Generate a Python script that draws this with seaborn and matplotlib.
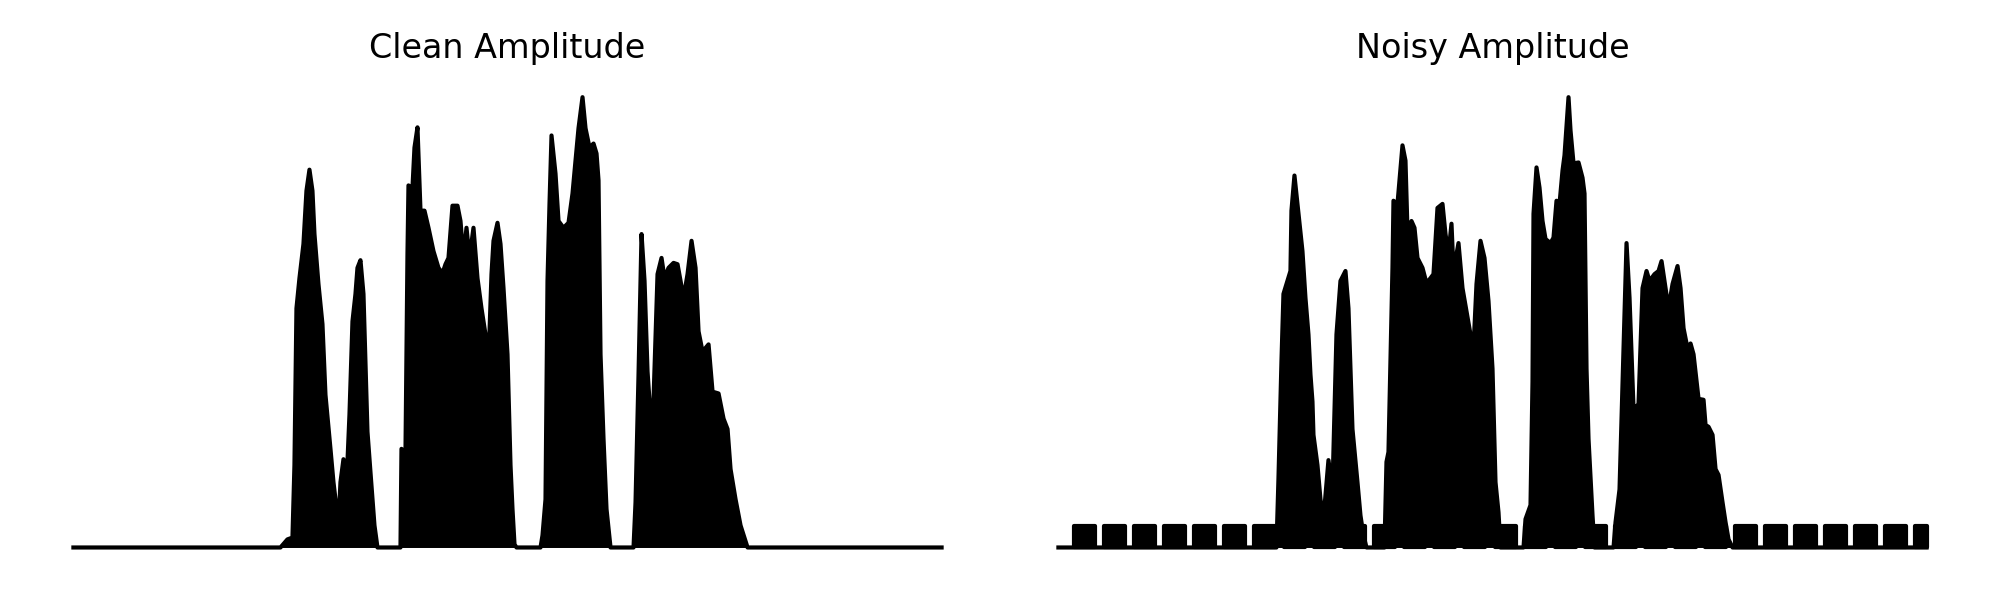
import numpy as np
import pandas as pd
import matplotlib
matplotlib.use('Agg')
import matplotlib.pyplot as plt
import seaborn as sns

duration = 2.17  # seconds shown on the time axis

# Envelope of the clean signal: time (s) and amplitude at the turning points
clean_t = [0.0, 0.5175, 0.535, 0.5475, 0.5525, 0.5575, 0.565, 0.575, 0.5825, 0.59,
           0.5975, 0.6025, 0.6125, 0.6225, 0.63, 0.6425, 0.65, 0.6625, 0.6675, 0.675,
           0.6825, 0.69, 0.6975, 0.705, 0.71, 0.7175, 0.725, 0.735, 0.7425, 0.7525,
           0.76,
           0.8175, 0.82, 0.83, 0.835, 0.8375, 0.8475, 0.8525, 0.86, 0.8675, 0.8775,
           0.8875, 0.9, 0.9125, 0.9225, 0.93, 0.9375, 0.9475, 0.96, 0.9675, 0.975,
           0.9825, 0.99, 1.0, 1.01, 1.02, 1.03, 1.0375, 1.045, 1.05, 1.06,
           1.0675, 1.075, 1.085, 1.0925, 1.0975, 1.1025, 1.1075,
           1.1675, 1.1725, 1.18, 1.185, 1.19, 1.195, 1.205, 1.2125, 1.225, 1.2375,
           1.2475, 1.255, 1.2625, 1.2725, 1.28, 1.29, 1.3, 1.3075, 1.3125, 1.3175,
           1.325, 1.3325, 1.3425,
           1.4, 1.405, 1.4125, 1.42, 1.4275, 1.435, 1.44, 1.45, 1.46, 1.47,
           1.4775, 1.4875, 1.5, 1.51, 1.5175, 1.525, 1.535, 1.545, 1.555, 1.5625,
           1.5725, 1.5875, 1.5975, 1.6125, 1.625, 1.635, 1.6425, 1.655, 1.6675, 1.685,
           2.17]
clean_amp = [0.0, 0.0, 0.018, 0.022, 0.183, 0.531, 0.598, 0.674, 0.792, 0.839,
             0.792, 0.696, 0.585, 0.496, 0.339, 0.219, 0.145, 0.051, 0.145, 0.196,
             0.138, 0.295, 0.502, 0.563, 0.621, 0.638, 0.563, 0.257, 0.167, 0.049,
             0.0,
             0.0, 0.219, 0.212, 0.652, 0.804, 0.799, 0.888, 0.933, 0.748, 0.748,
             0.710, 0.658, 0.621, 0.609, 0.629, 0.643, 0.759, 0.759, 0.725, 0.643,
             0.710, 0.643, 0.710, 0.598, 0.531, 0.473, 0.413, 0.607, 0.681, 0.721,
             0.674, 0.576, 0.429, 0.183, 0.085, 0.007, 0.0,
             0.0, 0.027, 0.107, 0.592, 0.763, 0.915, 0.830, 0.725, 0.710, 0.721,
             0.786, 0.859, 0.931, 1.0, 0.931, 0.888, 0.897, 0.875, 0.815, 0.429,
             0.241, 0.085, 0.0,
             0.0, 0.100, 0.384, 0.696, 0.592, 0.391, 0.324, 0.328, 0.607, 0.643,
             0.598, 0.621, 0.632, 0.629, 0.592, 0.554, 0.607, 0.681, 0.621, 0.480,
             0.435, 0.451, 0.346, 0.342, 0.286, 0.263, 0.174, 0.107, 0.049, 0.0,
             0.0]

# Envelope of the noisy signal (speech part)
noisy_t = [0.0, 0.545, 0.55, 0.5575, 0.5625, 0.5725, 0.58, 0.5825, 0.59, 0.5975,
           0.6025, 0.61, 0.6175, 0.625, 0.63, 0.635, 0.6375, 0.6475, 0.655, 0.6625,
           0.6675, 0.675, 0.685, 0.695, 0.705, 0.7175, 0.725, 0.735, 0.7475, 0.755,
           0.7625, 0.77,
           0.815, 0.82, 0.825, 0.835, 0.8375, 0.8475, 0.8525, 0.86, 0.8675, 0.8725,
           0.8825, 0.89, 0.8975, 0.91, 0.92, 0.93, 0.9375, 0.9475, 0.96, 0.9675,
           0.975, 0.9825, 0.9875, 1.0, 1.01, 1.02, 1.03, 1.0375, 1.045, 1.055,
           1.065, 1.075, 1.085, 1.0925, 1.1, 1.105,
           1.1625, 1.1675, 1.18, 1.185, 1.1875, 1.195, 1.2025, 1.21, 1.2175, 1.23,
           1.2375, 1.245, 1.2525, 1.26, 1.265, 1.275, 1.28, 1.2875, 1.3, 1.31,
           1.315, 1.32, 1.325, 1.335, 1.34,
           1.3875, 1.3925, 1.4025, 1.4125, 1.42, 1.4275, 1.4375, 1.445, 1.45, 1.46,
           1.47, 1.4775, 1.49, 1.5, 1.5075, 1.5175, 1.525, 1.535, 1.5475, 1.555,
           1.5625, 1.5725, 1.58, 1.5875, 1.6, 1.6125, 1.6175, 1.625, 1.635, 1.6425,
           1.65, 1.66, 1.6675, 1.675, 1.685,
           2.17]
noisy_amp = [0.0, 0.0, 0.152, 0.413, 0.563, 0.592, 0.614, 0.748, 0.826, 0.763,
             0.719, 0.658, 0.554, 0.473, 0.384, 0.324, 0.250, 0.183, 0.107, 0.063,
             0.116, 0.194, 0.129, 0.473, 0.592, 0.614, 0.531, 0.263, 0.145, 0.071,
             0.027, 0.0,
             0.0, 0.190, 0.212, 0.621, 0.770, 0.763, 0.815, 0.893, 0.859, 0.703,
             0.725, 0.710, 0.643, 0.621, 0.587, 0.598, 0.607, 0.754, 0.763, 0.696,
             0.652, 0.719, 0.614, 0.676, 0.576, 0.525, 0.473, 0.442, 0.585, 0.681,
             0.643, 0.547, 0.397, 0.145, 0.078, 0.0,
             0.0, 0.063, 0.094, 0.368, 0.741, 0.844, 0.799, 0.725, 0.685, 0.676,
             0.688, 0.770, 0.763, 0.837, 0.871, 1.0, 0.926, 0.853, 0.855, 0.821,
             0.786, 0.397, 0.241, 0.071, 0.0,
             0.0, 0.056, 0.129, 0.442, 0.676, 0.554, 0.308, 0.313, 0.319, 0.576,
             0.614, 0.592, 0.607, 0.614, 0.636, 0.576, 0.531, 0.585, 0.625, 0.576,
             0.487, 0.442, 0.453, 0.429, 0.330, 0.328, 0.272, 0.268, 0.250, 0.174,
             0.161, 0.100, 0.056, 0.018, 0.0,
             0.0]

# Periodic noise bursts added to the noisy signal
noise_onsets = [0.04, 0.115, 0.19, 0.265, 0.34, 0.415, 0.49, 0.565, 0.64, 0.715,
                0.79, 0.865, 0.94, 1.015, 1.09, 1.165, 1.24, 1.315, 1.39, 1.465,
                1.54, 1.615, 1.69, 1.765, 1.84, 1.915, 1.99, 2.065, 2.14]
noise_len = 0.0525
noise_amp = 0.047

fig, axes = plt.subplots(1, 2, figsize=(10, 3))


def draw_env(ax, t, amp, title):
    df = pd.DataFrame({'time': t, 'amplitude': amp})
    ax.fill_between(df['time'], 0, df['amplitude'], color='black', linewidth=0)
    sns.lineplot(data=df, x='time', y='amplitude', estimator=None, sort=False,
                 color='black', linewidth=1.5, ax=ax)
    ax.set_title(title, color='black')
    ax.axis('off')


draw_env(axes[0], clean_t, clean_amp, 'Clean Amplitude')
draw_env(axes[1], noisy_t, noisy_amp, 'Noisy Amplitude')

# noise pulses (last one is cut at the end of the recording)
widths = [min(noise_len, duration - s) for s in noise_onsets]
axes[1].bar(noise_onsets, noise_amp, width=widths, align='edge', color='black',
            edgecolor='black', linewidth=1.5, joinstyle='round')
axes[1].use_sticky_edges = False
axes[1].autoscale_view()

plt.tight_layout()
plt.savefig('out.png', dpi=200)
plt.close()
